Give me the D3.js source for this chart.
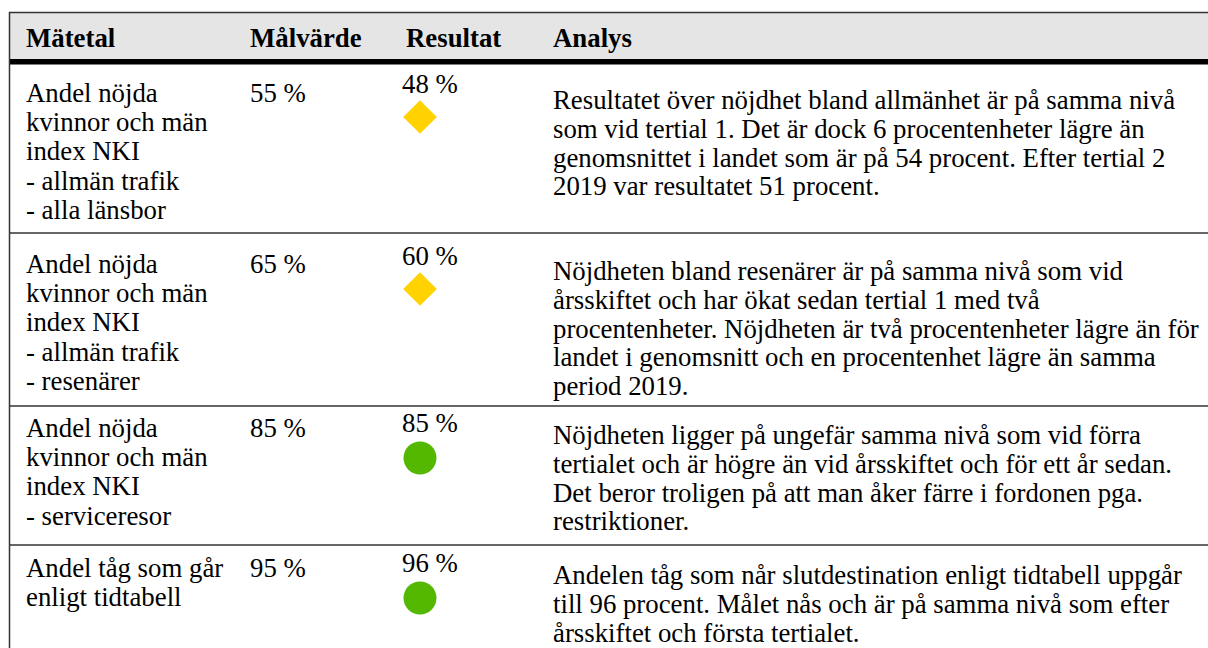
<!DOCTYPE html>
<html lang="sv">
<head>
<meta charset="UTF-8">
<title>Mätetal</title>
<script src="https://d3js.org/d3.v7.min.js"></script>
<style>
  body { margin: 0; background: #fff; }
  svg { display: block; font-family: "Liberation Serif", "Times New Roman", serif; }
  .head text { font-weight: bold; font-size: 26.8px; }
  .cell { font-size: 26.8px; fill: #000; }
</style>
</head>
<body>
<svg width="1208" height="648"></svg>
<script>
// Tabellens innehåll
const headers = ["Mätetal", "Målvärde", "Resultat", "Analys"];

const metrics = [
  ["Andel nöjda", "kvinnor och män", "index NKI", "- allmän trafik", "- alla länsbor"],
  ["Andel nöjda", "kvinnor och män", "index NKI", "- allmän trafik", "- resenärer"],
  ["Andel nöjda", "kvinnor och män", "index NKI", "- serviceresor"],
  ["Andel tåg som går", "enligt tidtabell"]
];

const targets = ["55 %", "65 %", "85 %", "95 %"];
const results = ["48 %", "60 %", "85 %", "96 %"];
const status = ["gul", "gul", "grön", "grön"];

const analysis = [
  ["Resultatet över nöjdhet bland allmänhet är på samma nivå",
   "som vid tertial 1. Det är dock 6 procentenheter lägre än",
   "genomsnittet i landet som är på 54 procent. Efter tertial 2",
   "2019 var resultatet 51 procent."],
  ["Nöjdheten bland resenärer är på samma nivå som vid",
   "årsskiftet och har ökat sedan tertial 1 med två",
   "procentenheter. Nöjdheten är två procentenheter lägre än för",
   "landet i genomsnitt och en procentenhet lägre än samma",
   "period 2019."],
  ["Nöjdheten ligger på ungefär samma nivå som vid förra",
   "tertialet och är högre än vid årsskiftet och för ett år sedan.",
   "Det beror troligen på att man åker färre i fordonen pga.",
   "restriktioner."],
  ["Andelen tåg som når slutdestination enligt tidtabell uppgår",
   "till 96 procent. Målet nås och är på samma nivå som efter",
   "årsskiftet och första tertialet."]
];

const svg = d3.select("svg");
const tLeft = 9, tTop = 12, tRight = 1220;
const colX = [26, 250, 402, 553];
const headX = [26, 250, 406, 553];
const rowTops = [65, 233, 406, 545];
const firstPad = [37, 40, 31, 32];
const resultPad = [28, 32, 26, 27];
const shapePad = [52, 56, 52, 53];
const lh = 29.2, lhA = 28.8;

const rows = d3.range(metrics.length).map(i => ({
  i, y0: rowTops[i],
  metric: metrics[i], target: targets[i], result: results[i],
  status: status[i], analysis: analysis[i]
}));

// Rubrikrad
const head = svg.append("g").attr("class", "head");
head.append("rect")
  .attr("x", tLeft).attr("y", tTop)
  .attr("width", tRight - tLeft).attr("height", 47)
  .attr("fill", "#e5e5e5");
head.append("line")
  .attr("x1", tLeft).attr("x2", tRight).attr("y1", tTop + 0.5).attr("y2", tTop + 0.5)
  .attr("stroke", "#333").attr("stroke-width", 1.5);
head.append("rect")
  .attr("x", tLeft).attr("y", 59)
  .attr("width", tRight - tLeft).attr("height", 5.5)
  .attr("fill", "#000");
head.selectAll("text")
  .data(headers)
  .enter().append("text")
  .attr("x", (d, i) => headX[i])
  .attr("y", 47)
  .text(d => d);

// Rader
const g = svg.selectAll(".row")
  .data(rows)
  .enter().append("g")
  .attr("class", "row");

g.filter(d => d.i > 0).append("line")
  .attr("x1", tLeft).attr("x2", tRight)
  .attr("y1", d => d.y0).attr("y2", d => d.y0)
  .attr("stroke", "#333").attr("stroke-width", 1.5);

g.each(function (d) {
  const s = d3.select(this);
  const base = d.y0 + firstPad[d.i];

  s.selectAll(".m")
    .data(d.metric)
    .enter().append("text")
    .attr("class", "cell m")
    .attr("x", colX[0])
    .attr("y", (t, k) => base + k * lh)
    .text(t => t);

  s.append("text")
    .attr("class", "cell")
    .attr("x", colX[1]).attr("y", base)
    .text(d.target);

  s.append("text")
    .attr("class", "cell")
    .attr("x", colX[2]).attr("y", d.y0 + resultPad[d.i])
    .text(d.result);

  const cx = colX[2] + 18, cy = d.y0 + shapePad[d.i];
  if (d.status === "gul") {
    s.append("path")
      .attr("d", d3.symbol(d3.symbolDiamond2, 720)())
      .attr("transform", `translate(${cx},${cy})`)
      .attr("fill", "#ffd200");
  } else {
    s.append("circle")
      .attr("cx", cx).attr("cy", cy).attr("r", 16.5)
      .attr("fill", "#55b800");
  }

  s.selectAll(".a")
    .data(d.analysis)
    .enter().append("text")
    .attr("class", "cell a")
    .attr("x", colX[3])
    .attr("y", (t, k) => base + 7 + k * lhA)
    .text(t => t);
});

// Vänsterkant
svg.append("line")
  .attr("x1", tLeft + 0.5).attr("x2", tLeft + 0.5)
  .attr("y1", tTop).attr("y2", 648)
  .attr("stroke", "#333").attr("stroke-width", 1.5);
</script>
</body>
</html>
